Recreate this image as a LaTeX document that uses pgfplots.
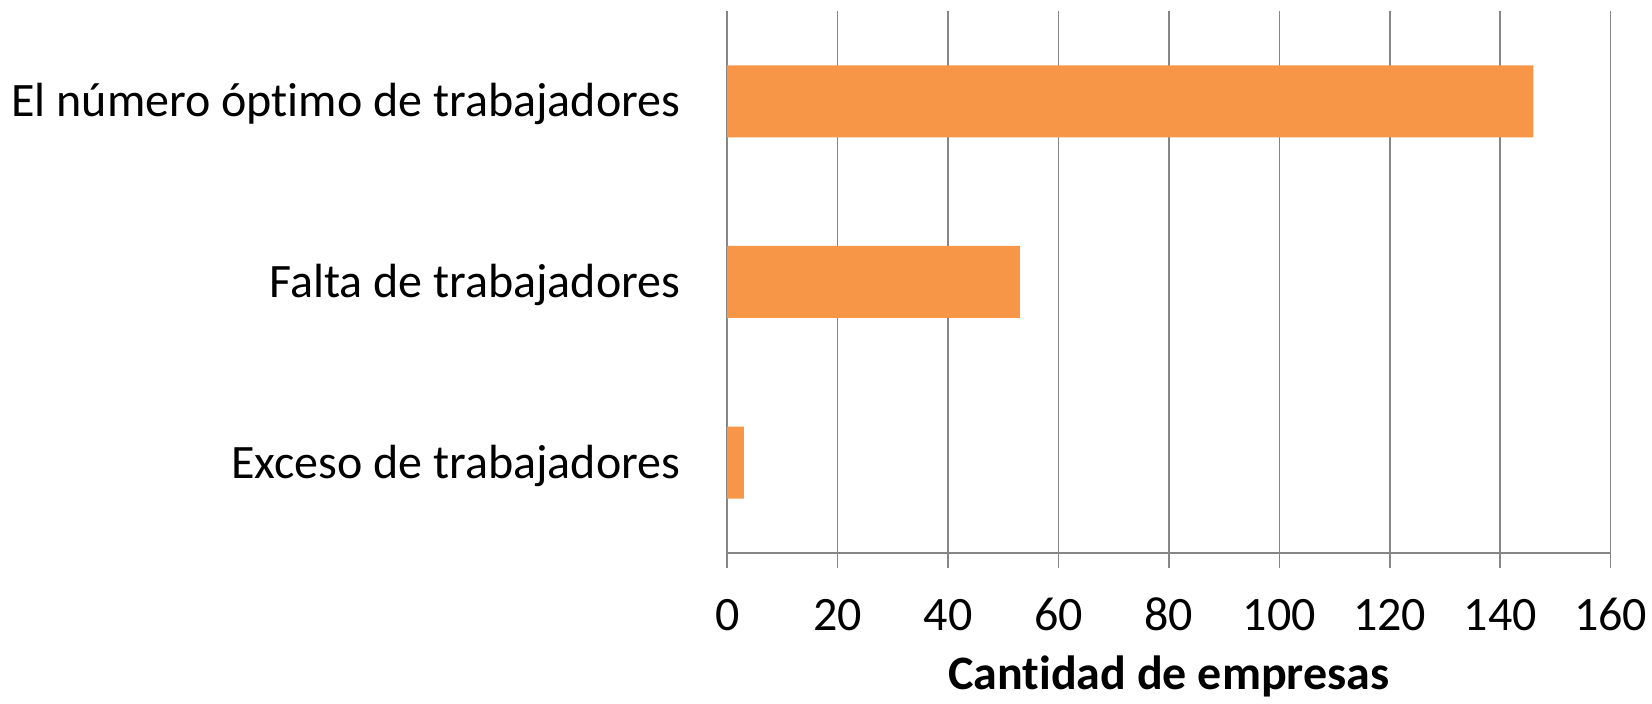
\documentclass[border=0pt]{standalone}
\usepackage{fontspec}
\setmainfont{Carlito}[Ligatures=NoCommon]
\usepackage{pgfplots}
\pgfplotsset{compat=1.18}
\definecolor{barorange}{HTML}{F79646}
\definecolor{gridgray}{HTML}{868686}
\begin{document}
\begin{tikzpicture}
\useasboundingbox (-363.6pt,-75.2pt) rectangle (462.4pt,276.4pt);
\begin{axis}[
  at={(0,0)}, anchor=south west,
  scale only axis,
  width=441.7pt, height=270.9pt,
  xbar, bar width=36pt,
  xmin=0, xmax=160,
  ymin=-0.5, ymax=2.5,
  xtick={0,20,...,160},
  ytick={0,1,2},
  yticklabels={Exceso de trabajadores,Falta de trabajadores,El número óptimo de trabajadores},
  axis x line*=bottom, axis y line*=left,
  axis line style={gridgray, line width=0.75pt},
  xmajorgrids, grid style={gridgray, line width=0.75pt},
  tick align=outside, major tick length=7.5pt,
  xtick style={gridgray, line width=0.75pt},
  ytick style={draw=none},
  /pgf/number format/assume math mode=true,
  tick label style={font=\fontsize{24}{29}\selectfont},
  xticklabel style={anchor=base, yshift=-31.5pt},
  yticklabel style={anchor=base east, inner sep=0pt, xshift=-15.8pt, yshift=-7.75pt},
  xlabel={Cantidad de empresas},
  xlabel style={at={(axis description cs:0.5,0)}, anchor=base, yshift=-68.5pt,
    font=\fontsize{24}{29}\selectfont\bfseries},
]
\addplot[fill=barorange, draw=none] coordinates {(3,0) (53,1) (146,2)};
\end{axis}
\end{tikzpicture}
\end{document}
